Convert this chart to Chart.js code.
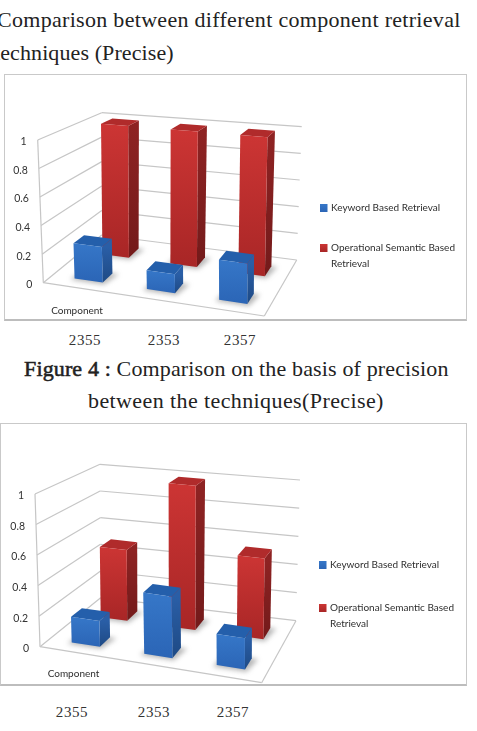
<!DOCTYPE html>
<html>
<head>
<meta charset="utf-8">
<title>Retrieval comparison</title>
<script src="https://cdn.jsdelivr.net/npm/chart.js@4"></script>
<style>
  html, body { margin: 0; padding: 0; background: #fff; overflow: hidden; }
  body { position: relative; width: 477px; height: 731px; font-family: "Liberation Serif", serif; color: #222; }
  .line { position: absolute; white-space: nowrap; font-size: 22px; line-height: 26px; }
  .panel { position: absolute; box-sizing: border-box; border: 1.5px solid #c9c9c9; border-bottom: 2px solid #bdbdbd; }
  .panel canvas { position: absolute; left: -1.5px; top: -1.5px; }
  .cat { position: absolute; font-size: 15px; line-height: 18px; letter-spacing: 0.6px; color: #333; transform: translateX(-50%); }
  .fig { -webkit-text-stroke: .55px #222; }
</style>
</head>
<body>
<div class="line" style="left:-3px;top:7px;letter-spacing:.3px">Comparison between different component retrieval</div>
<div class="line" style="left:-6px;top:40px;letter-spacing:.1px">techniques (Precise)</div>

<div class="panel" style="left:4px;top:74px;width:463px;height:247px"><canvas id="chartOne" width="463" height="247"></canvas></div>
<div id="catsOne"></div>

<div class="line" style="left:24px;top:356px;letter-spacing:.14px"><span class="fig">Figure 4 :</span> Comparison on the basis of precision</div>
<div class="line" style="left:88px;top:388px;letter-spacing:.4px">between the techniques(Precise)</div>

<div class="panel" style="left:0;top:423px;width:467px;height:263px"><canvas id="chartTwo" width="467" height="263"></canvas></div>
<div id="catsTwo"></div>

<script>
const categories = ['2355', '2353', '2357'];
const seriesNames = ['Keyword Based Retrieval', 'Operational Semantic Based Retrieval'];
const yTickStep = 0.2;
const xAxisName = 'Component';

const keywordOne = [0.25, 0.13, 0.27];
const operationalOne = [1, 1, 1];
const keywordTwo = [0.17, 0.4, 0.2];
const operationalTwo = [0.5, 1, 0.55];

const RED = { top: '#b02b2b', side: ['#8e2323', '#731a1a'], front: ['#cc3534', '#a82626'] };
const BLUE = { top: '#245fab', side: ['#2a5ea6', '#1e4a85'], front: ['#3677c8', '#2b65b6'] };
const GRID = '#c6c6c6';

// Trapezoid of the 3D box: each corner holds floor x, floor y, top x, top y
function wallProjector(box) {
  const mix = (a, b, t) => a + (b - a) * t;
  return (u, w, v) => {
    const pick = (i) => mix(mix(box.fl[i], box.fr[i], u), mix(box.bl[i], box.br[i], u), w);
    return [mix(pick(0), pick(2), v), mix(pick(1), pick(3), v)];
  };
}

function quad(ctx, pts) {
  ctx.beginPath();
  pts.forEach((p, i) => i ? ctx.lineTo(p[0], p[1]) : ctx.moveTo(p[0], p[1]));
  ctx.closePath();
}

function segment(ctx, a, b) {
  ctx.beginPath();
  ctx.moveTo(a[0], a[1]);
  ctx.lineTo(b[0], b[1]);
  ctx.stroke();
}

function vGradient(ctx, y0, y1, stops) {
  const g = ctx.createLinearGradient(0, y0, 0, y1);
  g.addColorStop(0, stops[0]);
  g.addColorStop(1, stops[1]);
  return g;
}

// Bars are laid out by Chart.js, this turns them into boxes on the floor
const box3d = {
  id: 'box3d',
  beforeDatasetsDraw(chart, args, opts) {
    const ctx = chart.ctx;
    const P = wallProjector(opts.box);
    const yScale = chart.scales.y;
    const val = (px) => (yScale.bottom - px) / yScale.height;

    ctx.save();
    ctx.strokeStyle = GRID;
    ctx.lineWidth = 1.2;
    yScale.ticks.forEach((tick) => {
      const v = val(yScale.getPixelForValue(tick.value));
      segment(ctx, P(0, 0, v), P(0, 1, v));
      segment(ctx, P(0, 1, v), P(1, 1, v));

      const at = P(0, 0, v);
      ctx.fillStyle = '#333';
      ctx.font = '10.5px Lato';
      ctx.textAlign = 'right';
      ctx.textBaseline = 'middle';
      ctx.fillText(tick.label, at[0] - 11, at[1] + 2);
    });
    segment(ctx, P(0, 0, 0), P(1, 0, 0));
    segment(ctx, P(1, 0, 0), P(1, 1, 0));
    segment(ctx, P(0, 0, 0), P(0, 0, 1));
    ctx.restore();
  },
  afterDatasetsDraw(chart, args, opts) {
    const ctx = chart.ctx;
    const P = wallProjector(opts.box);
    const xScale = chart.scales.x;
    const yScale = chart.scales.y;
    const count = chart.data.datasets.length;
    const halfDepth = 0.0925;

    ctx.save();
    for (let d = count - 1; d >= 0; d--) {
      const colors = d === 0 ? BLUE : RED;
      const w0 = (d + 0.5) / count - halfDepth;
      const w1 = (d + 0.5) / count + halfDepth;
      chart.getDatasetMeta(d).data.forEach((bar) => {
        const u0 = (bar.x - bar.width / 2 - xScale.left) / xScale.width;
        const u1 = (bar.x + bar.width / 2 - xScale.left) / xScale.width;
        const v = (yScale.bottom - bar.y) / yScale.height;

        // soft contact shadow under the box
        ctx.save();
        ctx.filter = 'blur(2.5px)';
        ctx.fillStyle = 'rgba(90,90,90,.45)';
        quad(ctx, [P(u0 - .012, w0 - .03, 0), P(u1 + .012, w0 - .03, 0), P(u1 + .03, w1, 0), P(u0, w1, 0)]);
        ctx.fill();
        ctx.restore();

        const frontFace = [P(u0, w0, 0), P(u1, w0, 0), P(u1, w0, v), P(u0, w0, v)];
        const sideFace = [P(u1, w0, 0), P(u1, w1, 0), P(u1, w1, v), P(u1, w0, v)];
        const topFace = [P(u0, w0, v), P(u1, w0, v), P(u1, w1, v), P(u0, w1, v)];

        ctx.fillStyle = vGradient(ctx, P(u1, w0, v)[1], P(u1, w0, 0)[1], colors.side);
        quad(ctx, sideFace);
        ctx.fill();
        ctx.fillStyle = colors.top;
        quad(ctx, topFace);
        ctx.fill();
        ctx.fillStyle = vGradient(ctx, P(u0, w0, v)[1], P(u1, w0, 0)[1], colors.front);
        quad(ctx, frontFace);
        ctx.fill();
      });
    }
    ctx.restore();
  },
  afterDraw(chart, args, opts) {
    const ctx = chart.ctx;
    const lg = opts.legend;
    ctx.save();
    ctx.textAlign = 'left';
    ctx.textBaseline = 'middle';
    ctx.font = '10px Lato';
    ctx.fillStyle = '#2e2e2e';

    // legend: swatch plus one or two lines of text
    const swatch = (y, colors) => {
      ctx.fillStyle = vGradient(ctx, y - 4, y + 4, colors.front);
      ctx.fillRect(lg.x, y - 4, 7.5, 8);
      ctx.fillStyle = '#2e2e2e';
    };
    swatch(lg.y0, BLUE);
    ctx.fillText(chart.data.datasets[0].label, lg.x + 11, lg.y0);
    swatch(lg.y1, RED);
    const words = chart.data.datasets[1].label.split(' ');
    ctx.fillText(words.slice(0, 3).join(' '), lg.x + 11, lg.y1);
    ctx.fillText(words.slice(3).join(' '), lg.x + 11, lg.y1 + 16);

    ctx.textAlign = 'center';
    ctx.fillText(xAxisName, opts.axisName[0], opts.axisName[1]);
    ctx.restore();
  }
};

function makeChart(id, keyword, operational, box3dOptions) {
  const ctx = document.getElementById(id).getContext('2d');
  return new Chart(ctx, {
    type: 'bar',
    plugins: [box3d],
    data: {
      labels: categories,
      datasets: [
        { label: seriesNames[0], data: keyword, backgroundColor: 'transparent' },
        { label: seriesNames[1], data: operational, backgroundColor: 'transparent' }
      ]
    },
    options: {
      responsive: false,
      animation: false,
      grouped: false,
      barPercentage: 0.39,
      categoryPercentage: 1,
      layout: { padding: 0 },
      plugins: {
        legend: { display: false },
        tooltip: { enabled: false },
        box3d: box3dOptions
      },
      scales: {
        x: { display: false },
        y: {
          display: false,
          min: 0,
          max: 1,
          ticks: { stepSize: yTickStep, callback: (value) => String(+value.toFixed(1)) }
        }
      }
    }
  });
}

function placeCategories(id, xs, top) {
  const holder = document.getElementById(id);
  categories.forEach((name, i) => {
    const el = document.createElement('div');
    el.className = 'cat';
    el.textContent = name;
    el.style.left = xs[i] + 'px';
    el.style.top = top + 'px';
    holder.appendChild(el);
  });
}

makeChart('chartOne', keywordOne, operationalOne, {
  box: {
    fl: [39.3, 208.7, 33.7, 66],
    fr: [260.3, 242, 259.7, 88.3],
    bl: [97.7, 161, 97.7, 38.7],
    br: [292.7, 186, 297.7, 52.7]
  },
  legend: { x: 316, y0: 134, y1: 174 },
  axisName: [73, 237]
});

makeChart('chartTwo', keywordTwo, operationalTwo, {
  box: {
    fl: [40, 223.7, 35, 71],
    fr: [261.7, 259.7, 261, 99.7],
    bl: [100.7, 174.7, 100, 41.3],
    br: [296, 197.7, 300, 57]
  },
  legend: { x: 319, y0: 142, y1: 185 },
  axisName: [73.5, 251]
});

placeCategories('catsOne', [85, 164, 240], 331);
placeCategories('catsTwo', [72, 154, 233], 703);
</script>
</body>
</html>
